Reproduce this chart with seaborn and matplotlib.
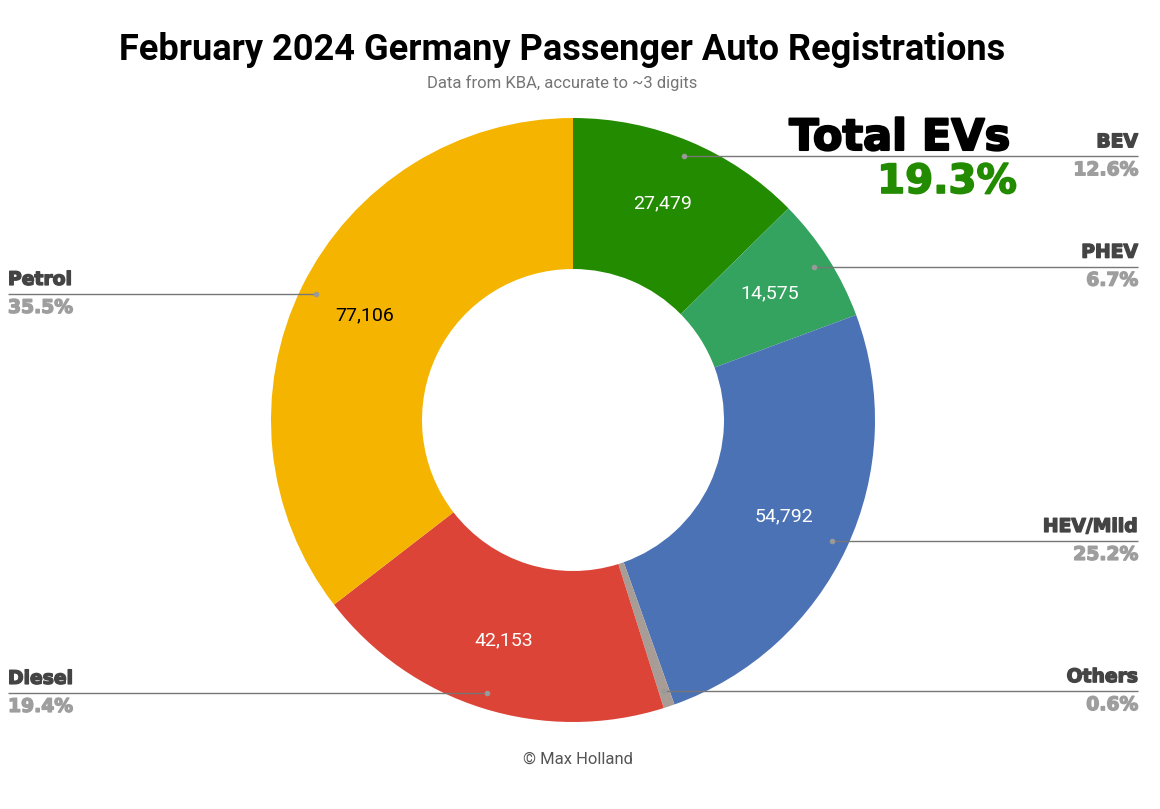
import numpy as np
import matplotlib
matplotlib.use("Agg")
import matplotlib.pyplot as plt
import matplotlib.patheffects as pe
import seaborn as sns

# data (clockwise from 12 o'clock)
categories = ["BEV", "PHEV", "HEV/Mild", "Others", "Diesel", "Petrol"]
registrations = [27479, 14575, 54792, 1290, 42153, 77106]
colors = ["#228B00", "#34A35F", "#4A72B4", "#A89D96", "#DB4437", "#F4B400"]
value_colors = ["white", "white", "white", None, "white", "black"]
ev_categories = ["BEV", "PHEV"]

title = "February 2024 Germany Passenger Auto Registrations"
subtitle = "Data from KBA, accurate to ~3 digits"
credit = "\u00a9 Max Holland"

sns.set_theme(style="white")
plt.rcParams["font.family"] = ["Roboto", "DejaVu Sans"]

W, H = 1160, 809
fig = plt.figure(figsize=(W / 100, H / 100), dpi=100)
ax = fig.add_axes([0, 0, 1, 1])

cx, cy = 573, H - 420
R = 302
ring = 0.5

vals = np.array(registrations, dtype=float)
total = vals.sum()
shares = vals / total * 100

ax.pie(vals, colors=colors, startangle=90, counterclock=False,
       center=(cx, cy), radius=R,
       wedgeprops=dict(width=R * ring, linewidth=0))
ax.set_xlim(0, W)
ax.set_ylim(0, H)
ax.set_aspect("equal", adjustable="box")
ax.axis("off")

cum = np.cumsum(vals) - vals / 2
mid_deg = 90 - cum / total * 360

def heavy(color, w=1.0):
    return [pe.withStroke(linewidth=w, foreground=color)]

name_font = dict(family="DejaVu Sans", fontweight="bold", fontsize=13.5)
for cat, v, share, ang, vc in zip(categories, vals, shares, mid_deg, value_colors):
    a = np.deg2rad(ang)
    # value label inside ring
    if vc is not None:
        rl = R * 0.77
        ax.text(cx + rl * np.cos(a), cy + rl * np.sin(a) + 2, f"{int(v):,}",
                color=vc, fontsize=14, ha="center", va="center")
    # leader line + outside label
    rd = R * 0.947
    dx, dy = cx + rd * np.cos(a), cy + rd * np.sin(a)
    right = np.cos(a) >= 0
    xe = 1138 if right else 8
    ax.plot([dx, xe], [dy, dy], color="#777777", lw=1, solid_capstyle="butt")
    ax.plot(dx, dy, "o", color="#999999", ms=3)
    ha = "right" if right else "left"
    ax.text(xe, dy + 5, cat, ha=ha, va="bottom", color="#444444",
            path_effects=heavy("#444444"), **name_font)
    ax.text(xe, dy - 4, f"{share:.1f}%", ha=ha, va="top", color="#9E9E9E",
            path_effects=heavy("#9E9E9E"), **name_font)

ev_share = sum(s for c, s in zip(categories, shares) if c in ev_categories)
ax.text(1010, H - 150, "Total EVs", ha="right", va="baseline", fontsize=31,
        family="DejaVu Sans", fontweight="bold", color="black",
        path_effects=heavy("black", 1.5))
ax.text(1017, H - 193, f"{ev_share:.1f}%", ha="right", va="baseline", fontsize=29,
        family="DejaVu Sans", fontweight="bold", color="#228B00",
        path_effects=heavy("#228B00", 1.2))

fig.text(562 / W, 1 - 50 / H, title, ha="center", va="center",
         fontsize=26, fontweight="bold", color="black")
fig.text(562 / W, 1 - 83 / H, subtitle, ha="center", va="center",
         fontsize=12, color="#757575")
fig.text(578 / W, 1 - 759 / H, credit, ha="center", va="center",
         fontsize=12, color="#555555")

fig.savefig("out.png", dpi=100, facecolor="white")
